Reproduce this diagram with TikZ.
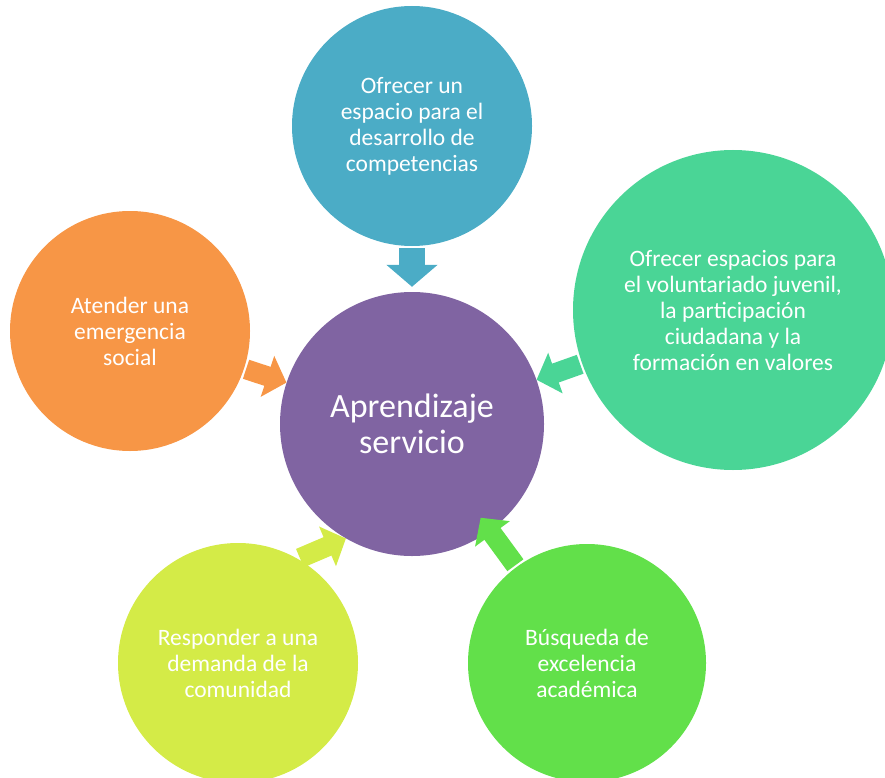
\documentclass[tikz,border=0pt]{standalone}
\usepackage{fontspec}
\setmainfont{Carlito}
\usetikzlibrary{arrows.meta}
\definecolor{compblue}{HTML}{4BACC6}
\definecolor{centrepurple}{HTML}{8064A2}
\definecolor{socialorange}{HTML}{F79646}
\definecolor{volgreen}{HTML}{4AD596}
\definecolor{excgreen}{HTML}{62E04A}
\definecolor{demyellow}{HTML}{D4EB47}
\begin{document}
\begin{tikzpicture}[x=1pt,y=-1pt,
                    bubble/.style = {circle,inner sep=0pt,text=white,align=center,
                                     font=\fontsize{23.5}{26}\selectfont},
                    arrow/.style = {line width=20pt,shorten <=2pt,
                                    -{Triangle[width=42pt,length=20pt]}}]
                    \useasboundingbox (0,0) rectangle (885,778);
                    \node[bubble,fill=centrepurple,minimum size=264pt,
                          font=\fontsize{34}{36}\selectfont] (centre) at (412,424) {Aprendizaje\\servicio};
                    \node[bubble,fill=compblue,minimum size=240pt] (comp) at (412,126)
                        {Ofrecer un\\espacio para el\\desarrollo de\\competencias};
                    \node[bubble,fill=volgreen,minimum size=320pt] (vol) at (733,310)
                        {Ofrecer espacios para\\el voluntariado juvenil,\\la participaci\'on\\ciudadana y la\\formaci\'on en valores};
                    \node[bubble,fill=socialorange,minimum size=240pt] (social) at (130,331)
                        {Atender una\\emergencia\\social};
                    \node[bubble,fill=demyellow,minimum size=240pt] (demand) at (238,663)
                        {Responder a una\\demanda de la\\comunidad};
                    \node[bubble,fill=excgreen,minimum size=238pt] (exc) at (587,663)
                        {B\'usqueda de\\excelencia\\acad\'emica};

                    \draw[arrow,compblue,line width=26pt,shorten >=5pt,
                          -{Triangle[width=50pt,length=22pt]}] (comp) -- (centre);
                    \draw[arrow,socialorange] (social) -- (centre);
                    \draw[arrow,volgreen] (vol) -- (centre);
                    \draw[arrow,demyellow] (demand.60) -- (centre.240);
                    \draw[arrow,excgreen,shorten >=-16pt] (exc) -- (centre);
                \end{tikzpicture}
\end{document}
